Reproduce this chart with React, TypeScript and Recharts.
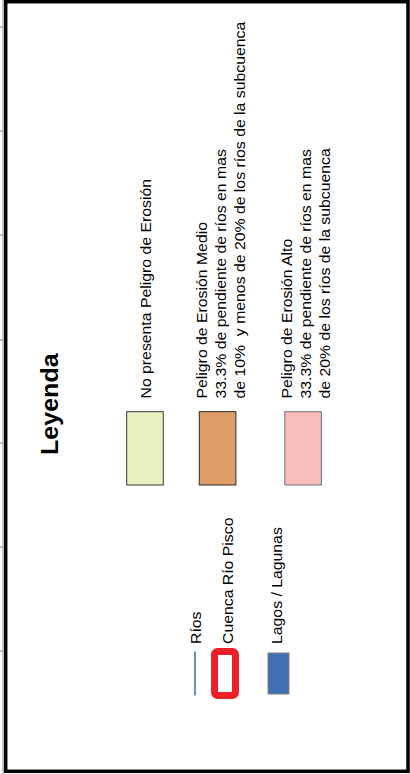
import { ScatterChart, Scatter, XAxis, YAxis, Customized } from "recharts";

// textos y colores de la leyenda
const titulo = "Leyenda";

const clasesNombres = [
  ["No presenta Peligro de Erosión"],
  [
    "Peligro de Erosión Medio",
    "33.3% de pendiente de ríos en mas",
    "de 10%  y menos de 20% de los ríos de la subcuenca",
  ],
  [
    "Peligro de Erosión Alto",
    "33.3% de pendiente de ríos en mas",
    "de 20% de los ríos de la subcuenca",
  ],
];
const clasesColores = ["#e8f0bd", "#df9e67", "#f9bdbd"];
const clasesBordes = ["#3a3a3a", "#2a2a2a", "#707070"];

const refNombres = ["Ríos", "Cuenca Río Pisco", "Lagos / Lagunas"];
const refTipos = ["linea", "contorno", "relleno"];
const refColores = ["#4a72c0", "#ee1f26", "#416fb6"];

const marcasIzq = [27, 131, 235, 340, 443, 547, 651];

// layout
const W = 410;
const H = 774;
const FONT = '"Liberation Sans", Arial, sans-serif';
const FS = 14.5;
const STRETCH = 1.09;
const LINE = 19;
const SW_W = 36.6;
const SW_H = 73.3;
const SW_LEFT = 126.7;
const SW_TOP = 411.7;
const TXT_Y = 398.5;
const REF_X = [195, 225, 278.5];
const REF_DX = [5.7, 7.5, 3.5];
const REF_CY = 673.5;
const REF_TXT_Y = 644;

const clasesData = (() => {
  let left = SW_LEFT;
  return clasesNombres.map((lineas, i) => {
    const bloque =
      lineas.length === 1
        ? SW_W
        : Math.max(SW_W, 7.5 + (lineas.length - 1) * LINE + 4);
    const p = {
      x: left + SW_W / 2,
      y: SW_TOP + SW_H / 2,
      lineas,
      color: clasesColores[i],
      borde: clasesBordes[i],
    };
    left += bloque + 36;
    return p;
  });
})();

const refData = refNombres.map((nombre, i) => ({
  x: REF_X[i],
  y: REF_CY,
  nombre,
  tipo: refTipos[i],
  color: refColores[i],
  dx: REF_DX[i],
}));

function VText({ x, y, text, size = FS, bold = false }: any) {
  return (
    <text
      transform={`translate(${x},${y}) rotate(-90) scale(${STRETCH},1)`}
      fontSize={size}
      fontFamily={FONT}
      fontWeight={bold ? "bold" : "normal"}
      fill="#000"
      style={{ whiteSpace: "pre" }}
    >
      {text}
    </text>
  );
}

function ClaseShape(props: any) {
  const { cx, cy, payload } = props;
  const left = cx - SW_W / 2;
  const top = cy - SW_H / 2;
  const lineas: string[] = payload.lineas;
  const base0 = lineas.length === 1 ? cx + 5.5 : left + 7.5;
  return (
    <g>
      <rect
        x={left}
        y={top}
        width={SW_W}
        height={SW_H}
        fill={payload.color}
        stroke={payload.borde}
        strokeWidth={1}
      />
      {lineas.map((t, j) => (
        <VText key={j} x={base0 + j * LINE} y={TXT_Y} text={t} />
      ))}
    </g>
  );
}

function RefShape(props: any) {
  const { cx, cy, payload } = props;
  let simbolo = null;
  if (payload.tipo === "linea") {
    simbolo = (
      <line
        x1={cx}
        x2={cx}
        y1={cy - 22}
        y2={cy + 22}
        stroke={payload.color}
        strokeWidth={1.6}
      />
    );
  } else if (payload.tipo === "contorno") {
    simbolo = (
      <rect
        x={cx - 10.5}
        y={cy - 22}
        width={21}
        height={44}
        rx={3}
        fill="#fff"
        stroke={payload.color}
        strokeWidth={7}
      />
    );
  } else {
    simbolo = (
      <rect
        x={cx - 10.5}
        y={cy - 20.5}
        width={21}
        height={41}
        fill={payload.color}
        stroke="#808080"
        strokeWidth={1}
      />
    );
  }
  return (
    <g>
      {simbolo}
      <VText x={cx + payload.dx} y={REF_TXT_Y} text={payload.nombre} />
    </g>
  );
}

function Marco() {
  return (
    <g>
      <rect
        x={5.7}
        y={1.7}
        width={402.3}
        height={769.6}
        fill="none"
        stroke="#000"
        strokeWidth={3.5}
      />
      <VText x={58.3} y={455} text={titulo} size={23} bold />
    </g>
  );
}

export default function App() {
  return (
    <div
      style={{
        position: "absolute",
        left: 0,
        top: 0,
        width: W,
        height: H,
        background: "#fff",
      }}
    >
      <ScatterChart
        width={W}
        height={H}
        margin={{ top: 0, right: 0, bottom: 0, left: 0 }}
      >
        <XAxis type="number" dataKey="x" domain={[3, W]} hide />
        <YAxis
          type="number"
          dataKey="y"
          domain={[0, H]}
          reversed
          ticks={marcasIzq}
          interval={0}
          width={3}
          tickSize={3}
          tick={() => <g />}
          axisLine={{ stroke: "#888" }}
          tickLine={{ stroke: "#888" }}
        />
        <Customized component={<Marco />} />
        <Scatter
          data={clasesData}
          shape={<ClaseShape />}
          isAnimationActive={false}
        />
        <Scatter
          data={refData}
          shape={<RefShape />}
          isAnimationActive={false}
        />
      </ScatterChart>
    </div>
  );
}
